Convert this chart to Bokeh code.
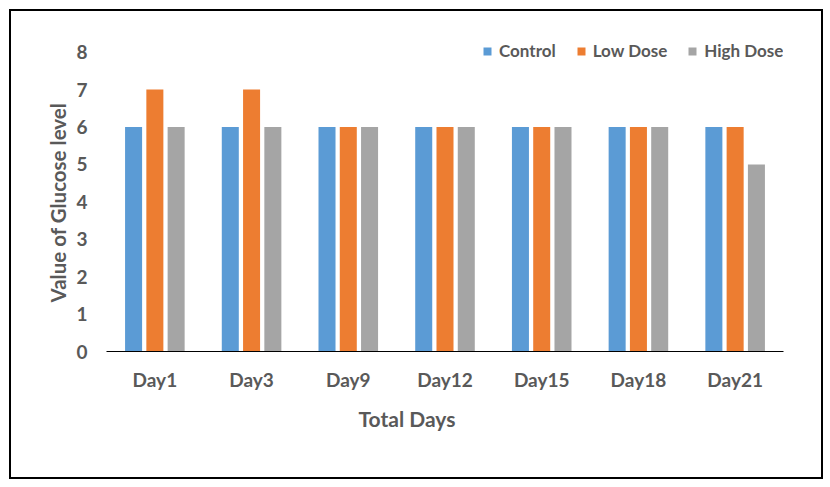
from bokeh.plotting import figure
from bokeh.models import (ColumnDataSource, FactorRange, Range1d, FixedTicker, Legend, LegendItem, Title)
from bokeh.transform import dodge
from bokeh.embed import file_html
from bokeh.resources import INLINE

days = ["Day1", "Day3", "Day9", "Day12", "Day15", "Day18", "Day21"]
control = [6, 6, 6, 6, 6, 6, 6]
low_dose = [7, 7, 6, 6, 6, 6, 6]
high_dose = [6, 6, 6, 6, 6, 6, 5]
series_names = ["Control", "Low Dose", "High Dose"]
y_ticks = [0, 1, 2, 3, 4, 5, 6, 7, 8]

colors = ["#5B9BD5", "#ED7D31", "#A5A5A5"]
FONT = "Lato"
TXT = "#595959"

src = ColumnDataSource(dict(day=days, control=control, low=low_dose, high=high_dose))

p = figure(width=810, height=466, x_range=FactorRange(*days, range_padding=0),
           y_range=Range1d(0, 8.5), output_backend="svg", toolbar_location=None,
           min_border_left=95, min_border_right=38, min_border_top=22, min_border_bottom=126)
p.x_range.range_padding = 0
p.styles = {"margin-left": "11px", "margin-top": "11px", "box-shadow": "0 0 0 2px black"}

W = 0.176
r1 = p.vbar(x=dodge("day", -0.22, range=p.x_range), top="control", width=W, source=src,
            color=colors[0], line_color=None)
r2 = p.vbar(x=dodge("day", 0.0, range=p.x_range), top="low", width=W, source=src,
            color=colors[1], line_color=None)
r3 = p.vbar(x=dodge("day", 0.22, range=p.x_range), top="high", width=W, source=src,
            color=colors[2], line_color=None)

p.xgrid.visible = False
p.ygrid.visible = False
p.outline_line_color = None

p.yaxis.ticker = FixedTicker(ticks=y_ticks)
p.yaxis.axis_line_color = None
p.yaxis.major_tick_line_color = None
p.yaxis.minor_tick_line_color = None
p.yaxis.major_label_text_font = FONT
p.yaxis.major_label_text_font_style = "bold"
p.yaxis.major_label_text_font_size = "19px"
p.yaxis.major_label_text_color = TXT
p.yaxis.major_label_standoff = 13

p.xaxis.axis_line_color = "black"
p.xaxis.axis_line_width = 1
p.xaxis.major_tick_line_color = None
p.xaxis.minor_tick_line_color = None
p.xaxis.major_label_text_font = FONT
p.xaxis.major_label_text_font_style = "bold"
p.xaxis.major_label_text_font_size = "19px"
p.xaxis.major_label_text_color = TXT
p.xaxis.major_label_standoff = 10

p.add_layout(Title(text="Total Days", align="left", offset=252, standoff=20,
                   text_font=FONT, text_font_style="bold", text_font_size="21px",
                   text_color=TXT), "below")
p.add_layout(Title(text="Value of Glucose level", align="left", offset=49, standoff=8,
                   text_font=FONT, text_font_style="bold", text_font_size="20.5px",
                   text_color=TXT), "left")

legend = Legend(items=[LegendItem(label=series_names[0], renderers=[r1]),
                       LegendItem(label=series_names[1], renderers=[r2]),
                       LegendItem(label=series_names[2], renderers=[r3])],
                orientation="horizontal", location=(376, 290),
                glyph_width=10, glyph_height=10, label_standoff=7, spacing=20,
                padding=0, margin=0, border_line_alpha=0, background_fill_alpha=0,
                label_text_font=FONT, label_text_font_style="bold", label_text_font_size="17px",
                label_text_color=TXT)
p.add_layout(legend, "center")

open("out.html", "w").write(file_html(p, INLINE))
